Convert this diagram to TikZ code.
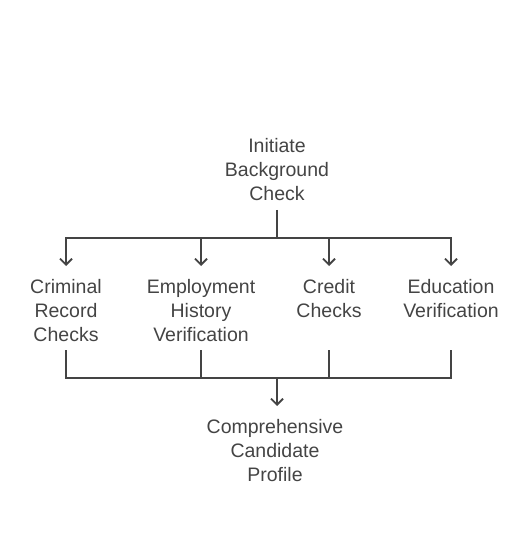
\documentclass[tikz,border=0pt]{standalone}
\usepackage{fontspec}
\setmainfont{Liberation Sans}
\usetikzlibrary{arrows.meta}
\definecolor{ink}{RGB}{68,68,68}
\tikzset{
  lbl/.style={text=ink, align=center, inner sep=0pt, anchor=base,
    font=\fontsize{19.5}{24}\selectfont},
  conn/.style={draw=ink, line width=1.8pt},
  arr/.style={conn, -{Straight Barb[length=6pt,width=12pt,line width=1.8pt]}},
}
\begin{document}
\begin{tikzpicture}[x=1pt,y=-1pt]
\useasboundingbox (0,0) rectangle (530,534);
% anchor=base is the baseline of the last line
\node[lbl] (top) at (277,201) {Initiate\\Background\\Check};
\node[lbl] (crim) at (66,341) {Criminal\\Record\\Checks};
\node[lbl] (emp) at (201,341) {Employment\\History\\Verification};
\node[lbl] (cred) at (329,317) {Credit\\Checks};
\node[lbl] (edu) at (451,317) {Education\\Verification};
\node[lbl] (prof) at (275,481) {Comprehensive\\Candidate\\Profile};
% upper connectors
\coordinate (t0) at (277,210);
\coordinate (tb) at (277,238);
\coordinate (a1) at (66,266);
\coordinate (a2) at (201,266);
\coordinate (a3) at (329,266);
\coordinate (a4) at (451,266);
\draw[conn] (t0) -- (tb);
\draw[arr] (tb) -| (a1);
\draw[arr] (tb) -| (a4);
\draw[arr] (a2 |- tb) -- (a2);
\draw[arr] (a3 |- tb) -- (a3);
% lower connectors
\coordinate (c1) at (66,350);
\coordinate (c2) at (201,350);
\coordinate (c3) at (329,350);
\coordinate (c4) at (451,350);
\coordinate (bb) at (277,378);
\coordinate (bt) at (277,406);
\draw[conn] (c1) |- (bb) -| (c4);
\draw[conn] (c2) -- (c2 |- bb);
\draw[conn] (c3) -- (c3 |- bb);
\draw[arr] (bb) -- (bt);
\end{tikzpicture}
\end{document}
